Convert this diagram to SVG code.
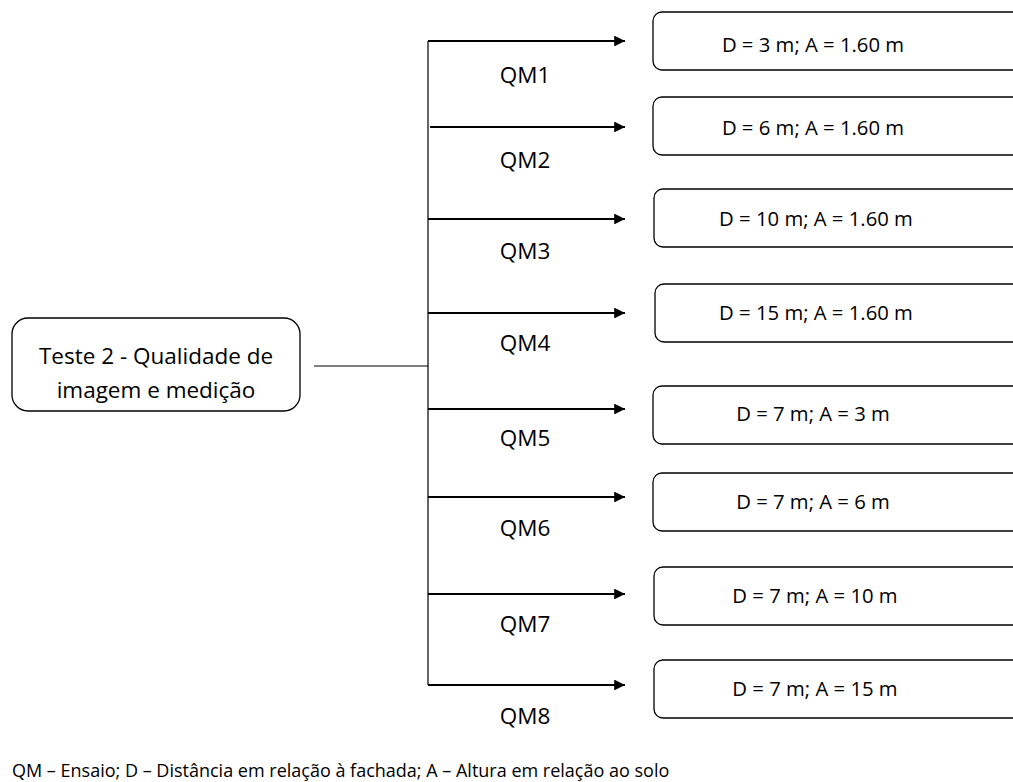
<svg xmlns="http://www.w3.org/2000/svg" width="1013" height="782" viewBox="0 0 1013 782">
  <style>
    .box { fill: #ffffff; stroke: #000000; stroke-width: 1.3; }
    .lbl { font-family: "Open Sans", "Liberation Sans", sans-serif; fill: #000000; text-anchor: middle; }
    .big { font-size: 22.5px; }
    .val { font-size: 20.3px; }
    .arrow { stroke: #000000; stroke-width: 1.8; fill: none; marker-end: url(#head); }
    .line { stroke: #000000; stroke-width: 1.2; fill: none; }
    .note { font-family: "Open Sans", "Liberation Sans", sans-serif; font-size: 18px; fill: #000000; }
  </style>
  <defs>
    <marker id="head" viewBox="0 0 10 10" refX="10" refY="5" markerWidth="7" markerHeight="6" markerUnits="strokeWidth" orient="auto">
      <path d="M0,0 L10,5 L0,10 Z" fill="#000000"/>
    </marker>
  </defs>
  <rect width="1013" height="782" fill="#ffffff"/>

  <g id="root">
    <rect class="box" x="12" y="318" width="288" height="93" rx="16"/>
    <text class="lbl big" x="156" y="364">Teste 2 - Qualidade de</text>
    <text class="lbl big" x="156" y="398">imagem e medição</text>
  </g>

  <g id="connectors">
    <line class="line" x1="314" y1="366" x2="428" y2="366"/>
    <line class="line" x1="428" y1="41" x2="428" y2="685"/>
    <line class="arrow" x1="428" y1="41" x2="625" y2="41"/>
    <line class="arrow" x1="430" y1="127" x2="625" y2="127"/>
    <line class="arrow" x1="428" y1="219" x2="625" y2="219"/>
    <line class="arrow" x1="428" y1="313" x2="625" y2="313"/>
    <line class="arrow" x1="428" y1="409" x2="625" y2="409"/>
    <line class="arrow" x1="428" y1="497" x2="625" y2="497"/>
    <line class="arrow" x1="428" y1="594" x2="625" y2="594"/>
    <line class="arrow" x1="428" y1="685" x2="625" y2="685"/>
    <text class="lbl big" x="525" y="83">QM1</text>
    <text class="lbl big" x="525" y="168">QM2</text>
    <text class="lbl big" x="525" y="259">QM3</text>
    <text class="lbl big" x="525" y="351">QM4</text>
    <text class="lbl big" x="525" y="446">QM5</text>
    <text class="lbl big" x="525" y="536">QM6</text>
    <text class="lbl big" x="525" y="632">QM7</text>
    <text class="lbl big" x="525" y="724">QM8</text>
  </g>

  <g id="qm1">
    <rect class="box" x="653" y="12" width="380" height="58" rx="9"/>
    <text class="lbl val" x="813" y="52">D = 3 m; A = 1.60 m</text>
  </g>
  <g id="qm2">
    <rect class="box" x="653" y="97" width="380" height="58" rx="9"/>
    <text class="lbl val" x="813" y="135">D = 6 m; A = 1.60 m</text>
  </g>
  <g id="qm3">
    <rect class="box" x="654" y="189" width="380" height="58" rx="9"/>
    <text class="lbl val" x="816" y="226">D = 10 m; A = 1.60 m</text>
  </g>
  <g id="qm4">
    <rect class="box" x="655" y="284" width="380" height="58" rx="9"/>
    <text class="lbl val" x="816" y="320">D = 15 m; A = 1.60 m</text>
  </g>
  <g id="qm5">
    <rect class="box" x="653" y="386" width="380" height="58" rx="9"/>
    <text class="lbl val" x="813" y="421">D = 7 m; A = 3 m</text>
  </g>
  <g id="qm6">
    <rect class="box" x="653" y="473" width="380" height="58" rx="9"/>
    <text class="lbl val" x="813" y="509">D = 7 m; A = 6 m</text>
  </g>
  <g id="qm7">
    <rect class="box" x="654" y="567" width="380" height="58" rx="9"/>
    <text class="lbl val" x="815" y="603">D = 7 m; A = 10 m</text>
  </g>
  <g id="qm8">
    <rect class="box" x="654" y="660" width="380" height="58" rx="9"/>
    <text class="lbl val" x="815" y="696">D = 7 m; A = 15 m</text>
  </g>

  <text class="note" x="12" y="777">QM – Ensaio; D – Distância em relação à fachada; A – Altura em relação ao solo</text>
</svg>
